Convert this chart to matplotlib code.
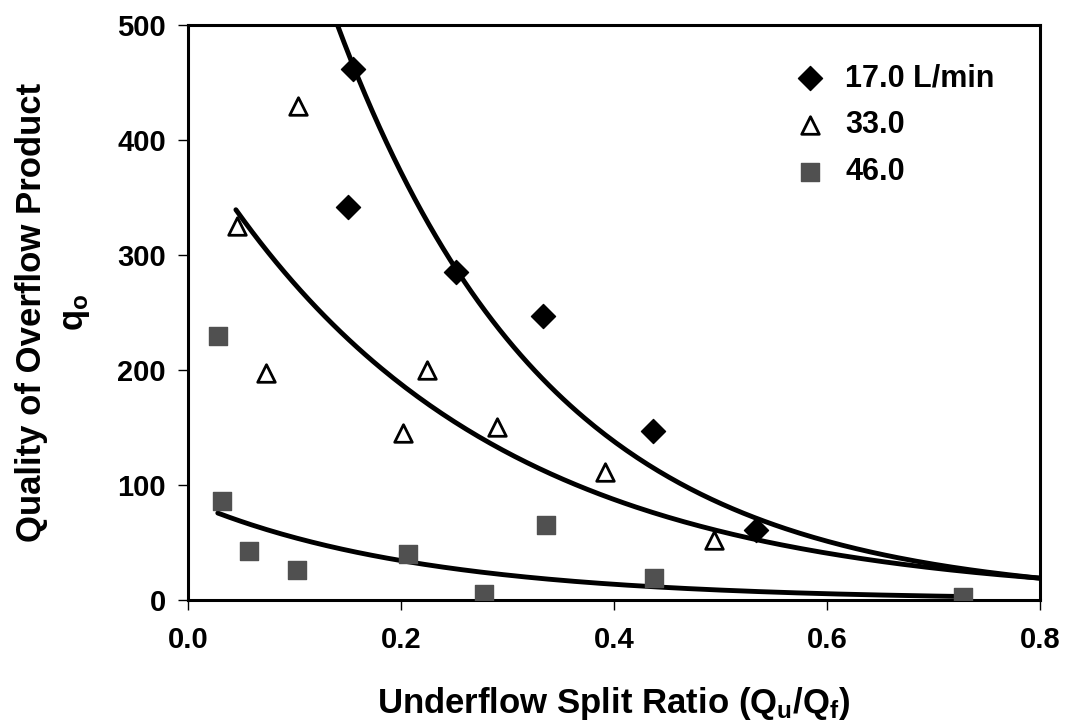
import numpy as np
import matplotlib
matplotlib.use("Agg")
import matplotlib.pyplot as plt

plt.rcParams['font.family'] = ['Liberation Sans', 'DejaVu Sans']
plt.rcParams['font.weight'] = 'bold'
plt.rcParams['mathtext.fontset'] = 'custom'
plt.rcParams['mathtext.rm'] = 'Liberation Sans:bold'
plt.rcParams['mathtext.it'] = 'Liberation Sans:bold'
plt.rcParams['mathtext.bf'] = 'Liberation Sans:bold'

# data
x17 = [0.155, 0.150, 0.252, 0.333, 0.437, 0.533]
y17 = [462, 342, 285, 247, 147, 61]

x33 = [0.103, 0.046, 0.073, 0.202, 0.224, 0.290, 0.392, 0.494]
y33 = [430, 325, 197, 145, 200, 150, 111, 52]

x46 = [0.028, 0.032, 0.057, 0.102, 0.207, 0.278, 0.336, 0.438, 0.728]
y46 = [230, 86, 43, 26, 40, 5, 65, 19, 3]

# exponential trendlines y = a*exp(-b*x): a, b, x range
fit17 = (1003, 4.96, 0.14, 0.80)
fit33 = (403, 3.82, 0.045, 0.80)
fit46 = (86, 4.6, 0.028, 0.73)

fig = plt.figure(figsize=(10.65, 7.27), dpi=100)
ax = fig.add_axes([0.1765, 0.1747, 0.80, 0.7909])

for a, b, x0, x1 in [fit17, fit33, fit46]:
    xs = np.linspace(x0, x1, 200)
    ax.plot(xs, a * np.exp(-b * xs), color='black', lw=3.5, solid_capstyle='round', zorder=2)

ax.scatter(x17, y17, marker='D', s=150, color='black', label='17.0 L/min', zorder=3)
ax.scatter(x33, y33, marker='^', s=160, facecolor='white', edgecolor='black', linewidths=2,
           label='33.0', zorder=3)
ax.scatter(x46, y46, marker='s', s=170, color='#505050', label='46.0', zorder=3)

ax.set_xlim(0, 0.8)
ax.set_ylim(0, 500)
ax.set_xticks([0.0, 0.2, 0.4, 0.6, 0.8])
ax.set_yticks([0, 100, 200, 300, 400, 500])
ax.set_xticklabels(['0.0', '0.2', '0.4', '0.6', '0.8'])
ax.tick_params(direction='out', length=7, width=1, labelsize=21)
ax.tick_params(axis='x', pad=12)
ax.tick_params(axis='y', pad=9)
for s in ax.spines.values():
    s.set_linewidth(2.2)

ax.set_xlabel('Underflow Split Ratio (Q$_\\mathregular{u}$/Q$_\\mathregular{f}$)', fontsize=25,
              fontweight='bold', labelpad=22)
ax.set_ylabel('Quality of Overflow Product\nq$_\\mathregular{o}$', fontsize=25,
              fontweight='bold', labelpad=18, linespacing=1.35)

leg = ax.legend(loc='upper right', bbox_to_anchor=(0.961, 0.955), frameon=False, fontsize=22,
                handletextpad=0.15, labelspacing=0.55, borderaxespad=0, scatterpoints=1)
for t in leg.get_texts():
    t.set_fontweight('bold')

fig.savefig('out.png', dpi=100)
